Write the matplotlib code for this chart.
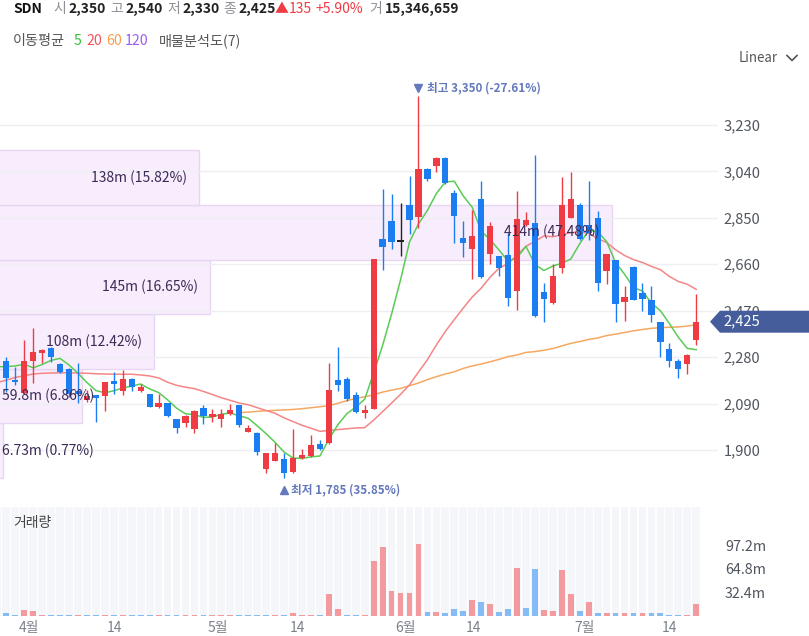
import numpy as np
import matplotlib
matplotlib.use("Agg")
import matplotlib.pyplot as plt
from matplotlib.patches import Rectangle, Polygon
from matplotlib.lines import Line2D
import matplotlib.transforms as mtransforms

plt.rcParams['font.family'] = ['Noto Sans CJK KR', 'DejaVu Sans']

# ---------------- data ----------------
opens = [2282, 2265, 2185, 2132, 2266, 2296, 2319, 2252, 2230, 2143,
         2105, 2126, 2122, 2181, 2143, 2191, 2143, 2129, 2075, 2091,
         2026, 2012, 1985, 2072, 2034, 2025, 2047, 2083, 1975, 1970,
         1824, 1855, 1862, 1809, 1866, 1875, 1925, 1930, 2186, 2189,
         2125, 2050, 2066, 2763, 2838, 2755, 2902, 2855, 3051, 3062,
         3095, 2953, 2766, 2721, 2926, 2702, 2695, 2696, 2551, 2821,
         2831, 2548, 2501, 2644, 2851, 2903, 2820, 2848, 2634, 2678,
         2507, 2648, 2544, 2514, 2422, 2312, 2266, 2252, 2350]
highs = [2290, 2282, 2241, 2350, 2398, 2312, 2323, 2255, 2234, 2255,
         2146, 2126, 2178, 2218, 2227, 2193, 2170, 2131, 2129, 2091,
         2028, 2043, 2064, 2083, 2066, 2066, 2088, 2085, 2002, 1972,
         1888, 1930, 1886, 1986, 1903, 1961, 1941, 2257, 2323, 2200,
         2139, 2084, 2680, 2967, 2946, 2909, 3021, 3350, 3054, 3100,
         3100, 2964, 2837, 2882, 3002, 2834, 2695, 2786, 2960, 2872,
         3108, 2585, 2660, 3016, 3039, 2910, 3000, 2880, 2701, 2678,
         2572, 2653, 2585, 2572, 2422, 2337, 2272, 2292, 2540]
lows = [2235, 2139, 2166, 2129, 2176, 2255, 2262, 2214, 2118, 2091,
        2098, 2016, 2060, 2128, 2125, 2143, 2139, 2075, 2073, 2036,
        1971, 1995, 1971, 2006, 2016, 1995, 2045, 1995, 1975, 1878,
        1804, 1855, 1785, 1805, 1862, 1873, 1901, 1925, 2141, 2102,
        2053, 2029, 2066, 2636, 2721, 2695, 2782, 2807, 3001, 3039,
        2988, 2748, 2691, 2598, 2602, 2661, 2612, 2489, 2473, 2817,
        2446, 2422, 2499, 2626, 2848, 2760, 2760, 2552, 2580, 2422,
        2426, 2512, 2467, 2422, 2282, 2241, 2194, 2211, 2330]
closes = [2241, 2194, 2180, 2264, 2302, 2309, 2279, 2221, 2129, 2131,
          2121, 2114, 2177, 2169, 2189, 2159, 2156, 2077, 2094, 2041,
          1989, 2039, 2060, 2039, 2047, 2047, 2064, 2002, 1990, 1892,
          1886, 1886, 1804, 1869, 1881, 1920, 1903, 2145, 2166, 2107,
          2057, 2064, 2680, 2732, 2750, 2755, 2841, 3048, 3007, 3097,
          2991, 2857, 2746, 2777, 2606, 2818, 2643, 2520, 2844, 2842,
          2449, 2517, 2612, 2903, 2926, 2763, 2790, 2585, 2701, 2497,
          2525, 2514, 2517, 2453, 2340, 2266, 2231, 2290, 2425]
volumes_m = [2.0, 3.2, 1.5, 8.2, 6.3, 1.0, 1.0, 0.6, 1.0, 1.0,
             0.4, 0.3, 0.4, 0.3, 0.4, 0.3, 0.3, 0.4, 0.3, 0.4,
             0.5, 0.4, 0.4, 0.3, 0.3, 0.3, 0.4, 0.4, 0.3, 0.5,
             0.6, 0.5, 0.6, 3.0, 0.5, 0.6, 0.4, 29.4, 9.5, 1.0,
             1.0, 1.5, 75.3, 95.0, 34.4, 31.0, 30.7, 98.7, 4.5, 4.5,
             3.0, 9.1, 6.0, 21.5, 19.2, 16.0, 4.5, 9.1, 65.6, 10.9,
             63.8, 7.7, 6.0, 62.5, 29.4, 6.0, 19.2, 4.0, 4.0, 4.0,
             4.0, 4.0, 3.0, 3.0, 3.0, 1.5, 1.5, 1.5, 15.35]

ma5_head = [2241, 2241, 2244, 2251]
ma20_head = [2176, 2186, 2197, 2204, 2211, 2214, 2215, 2216, 2216, 2215,
             2214, 2212, 2211, 2210, 2210, 2210, 2207, 2203, 2195]
ma60_start = 27
ma60_head = [2053, 2055, 2058, 2061, 2062, 2064, 2066, 2069, 2073, 2077,
             2081, 2091, 2102, 2111, 2118, 2126, 2137, 2145, 2152, 2163,
             2174, 2188, 2200, 2211, 2220, 2234, 2244, 2252, 2261, 2271,
             2282, 2289]

# volume profile (매물분석도, 7 bins from the visible low to high)
profile_low, profile_high = 1785, 3350
profile_vol_m = [6.73, 59.8, 108, 145, 414, 138, 0]
profile_labels = ["6.73m (0.77%)", "59.8m (6.86%)", "108m (12.42%)", "145m (16.65%)",
                  "414m (47.48%)", "138m (15.82%)", ""]

price_ticks = [1900, 2090, 2280, 2470, 2660, 2850, 3040, 3230]
vol_ticks = [32.4, 64.8, 97.2]
vol_tick_labels = ["32.4m", "64.8m", "97.2m"]
xtick_labels = ["4월", "14", "5월", "14", "6월", "14", "7월", "14"]
xtick_pos = [3.55, 13.1, 24.6, 33.5, 45.5, 53.1, 65.5, 75.0]

# ---------------- layout / style ----------------
W, H = 809, 636
UP = "#ef3b44"
DOWN = "#1a7ef2"
UP_V = "#f39a9e"
DOWN_V = "#86bcf6"

def fx(x):
    return x / W

def fy(y):
    return 1 - y / H

fig = plt.figure(figsize=(W / 100, H / 100), dpi=100)
fig.patch.set_facecolor("white")

PPX = 1330 / 325.0         # price per pixel
SLOT = 8.96                # pixels per candle
x_left = 2.66 / SLOT
x_right = (718 + 2.66) / SLOT

ax = fig.add_axes([0, fy(500), fx(718), (500 - 65) / H])
ax.set_xlim(x_left, x_right)
ax.set_ylim(3230 - (500 - 125) * PPX, 3230 + (125 - 65) * PPX)
ax.patch.set_alpha(0)
for s in ax.spines.values():
    s.set_visible(False)

n = len(closes)
idx = np.arange(n)
o = np.array(opens, float)
h = np.array(highs, float)
l = np.array(lows, float)
c = np.array(closes, float)

# gridlines
for t in price_ticks:
    ax.axhline(t, color="#eeeef3", lw=1, zorder=0.8)

# volume profile boxes
edges = np.linspace(profile_low, profile_high, len(profile_vol_m) + 1)
prof_scale = 0.1668
label_objs = []
for k, v in enumerate(profile_vol_m):
    if v <= 0:
        continue
    lo, hi = edges[k], edges[k + 1]
    right = -0.5 + v * prof_scale
    ax.add_patch(Rectangle((-0.5, lo), v * prof_scale, hi - lo, facecolor="#f8edfd",
                           edgecolor="#e7d6f1", lw=1.0, zorder=0.5))
    t = ax.annotate(profile_labels[k], xy=(right, (lo + hi) / 2), xytext=(-8.6, 0),
                    textcoords="offset points", ha="right", va="center",
                    fontsize=10, color="#3b2a55", zorder=6)
    label_objs.append((t, (lo + hi) / 2, profile_labels[k]))

# moving averages
def rolling(arr, win):
    out = np.full(len(arr), np.nan)
    for i in range(win - 1, len(arr)):
        out[i] = arr[i - win + 1:i + 1].mean()
    return out

ma5 = rolling(c, 5)
ma5[:len(ma5_head)] = ma5_head
ma20 = rolling(c, 20)
ma20[:len(ma20_head)] = ma20_head
ma60 = rolling(c, 60)
ma60[ma60_start:ma60_start + len(ma60_head)] = ma60_head

ax.plot(idx, ma60, color="#f6a862", lw=1.1, zorder=2)
ax.plot(idx, ma20, color="#f48686", lw=1.1, zorder=2)
ax.plot(idx, ma5, color="#5acb55", lw=1.1, zorder=2)

# candles
cols = []
for i in range(n):
    if c[i] > o[i]:
        cols.append(UP)
    elif c[i] < o[i]:
        cols.append(DOWN)
    else:
        cols.append("#222222")
ax.vlines(idx, l, h, colors=cols, lw=1.0, zorder=3)
body_lo = np.minimum(o, c)
body_h = np.maximum(np.abs(c - o), 5)
ax.bar(idx, body_h, bottom=body_lo - np.where(np.abs(c - o) < 5, 2.5, 0), width=0.7,
       color=cols, linewidth=0, zorder=4)

# high / low annotations
ih = int(np.argmax(h))
il = int(np.argmin(l))
ann_col = "#6479bd"
ax.plot([ih], [h[ih]], marker="v", ms=6, color=ann_col, transform=ax.transData +
        mtransforms.ScaledTranslation(0, 7.5 / 100, fig.dpi_scale_trans), clip_on=False, zorder=6)
ax.annotate(f"최고 {int(h[ih]):,} ({(c[-1] - h[ih]) / h[ih] * 100:.2f}%)", xy=(ih, h[ih]),
            xytext=(6.0, 5.6), textcoords="offset points", ha="left", va="center",
            fontsize=8.4, color=ann_col, fontweight="bold", zorder=6)
ax.plot([il], [l[il]], marker="^", ms=6, color=ann_col, transform=ax.transData +
        mtransforms.ScaledTranslation(0, -11.5 / 100, fig.dpi_scale_trans), clip_on=False, zorder=6)
ax.annotate(f"최저 {int(l[il]):,} ({(c[-1] - l[il]) / l[il] * 100:.2f}%)", xy=(il, l[il]),
            xytext=(5.2, -8.6), textcoords="offset points", ha="left", va="center",
            fontsize=8.4, color=ann_col, fontweight="bold", zorder=6)

ax.set_xticks([])
ax.yaxis.tick_right()
ax.set_yticks(price_ticks)
ax.set_yticklabels([f"{t:,}" for t in price_ticks])
ax.tick_params(axis="y", length=0, pad=4, labelsize=10.6, labelcolor="#50555e")

# ---------------- volume panel ----------------
axv = fig.add_axes([0, fy(615.6), fx(718), (615.6 - 507) / H])
axv.set_xlim(x_left, x_right)
vtop = (615.6 - 507) * 32.4 / 23.5
axv.set_ylim(0, vtop)
for s in axv.spines.values():
    s.set_visible(False)
axv.bar(idx, np.full(n, vtop), width=0.86, color="#f4f6fa", linewidth=0, zorder=0)
vcols = []
for i in range(n):
    ref = o[i] if i == 0 else c[i - 1]
    vcols.append(UP_V if c[i] >= ref else DOWN_V)
axv.bar(idx, volumes_m, width=0.65, color=vcols, linewidth=0, zorder=2)
axv.yaxis.tick_right()
axv.set_yticks(vol_ticks)
axv.set_yticklabels(vol_tick_labels)
axv.tick_params(axis="y", length=0, pad=5, labelsize=10.3, labelcolor="#50555e")
axv.set_xticks(xtick_pos)
axv.set_xticklabels(xtick_labels)
axv.tick_params(axis="x", length=0, pad=4, labelsize=10, labelcolor="#7b8089")
fig.text(fx(13), fy(523), "거래량", ha="left", va="center", fontsize=10, color="#444444")

# ---------------- header ----------------
hy = fy(9)
pieces = [
    (13, "SDN", "#111111", "bold"),
    (53, "시", "#8d9097", "normal"), (68, "2,350", "#222222", "bold"),
    (110, "고", "#8d9097", "normal"), (125, "2,540", "#222222", "bold"),
    (167, "저", "#8d9097", "normal"), (182, "2,330", "#222222", "bold"),
    (223, "종", "#8d9097", "normal"), (238, "2,425", "#222222", "bold"),
    (275, "▲", "#ef3b44", "normal"), (289, "135", "#ef3b44", "normal"),
    (315, "+5.90%", "#ef3b44", "normal"),
    (369, "거", "#8d9097", "normal"), (385, "15,346,659", "#222222", "bold"),
]
for x, s, col, wt in pieces:
    fig.text(fx(x), hy, s, ha="left", va="center", fontsize=10, color=col, fontweight=wt)

ry = fy(41)
row2 = [(13, "이동평균", "#555555"), (74, "5", "#33c23a"), (86, "20", "#f2545b"),
        (106, "60", "#f5a04f"), (125, "120", "#9a5cf2"), (159, "매물분석도(7)", "#555555")]
for x, s, col in row2:
    fig.text(fx(x), ry, s, ha="left", va="center", fontsize=10.2, color=col)

# Linear selector
fig.text(fx(739), fy(58), "Linear", ha="left", va="center", fontsize=9.6, color="#555555")
fig.add_artist(Line2D([fx(787), fx(792), fx(797)], [fy(55.5), fy(60.5), fy(55.5)],
                      color="#555555", lw=1.2, transform=fig.transFigure))

# current price tag
fig.canvas.draw()
ypix = ax.transData.transform((0, c[-1]))[1]
yc = ypix / H
hh = 11 / H
tag = Polygon([(fx(710), yc), (fx(720), yc + hh), (1.0, yc + hh), (1.0, yc - hh), (fx(720), yc - hh)],
              closed=True, facecolor="#455e9b", edgecolor="none", transform=fig.transFigure, zorder=5)
fig.add_artist(tag)
fig.text(fx(723), yc, f"{int(c[-1]):,}", ha="left", va="center", fontsize=10.6, color="white", zorder=6)

# clamp profile labels that would run off the left edge
renderer = fig.canvas.get_renderer()
blend = mtransforms.blended_transform_factory(ax.transAxes, ax.transData)
for t, ym, s in label_objs:
    bb = t.get_window_extent(renderer)
    if bb.x0 < 2:
        t.remove()
        ax.text(2 / 718, ym, s, transform=blend, ha="left", va="center",
                fontsize=10, color="#3b2a55", zorder=6)

fig.savefig("out.png", dpi=100)
